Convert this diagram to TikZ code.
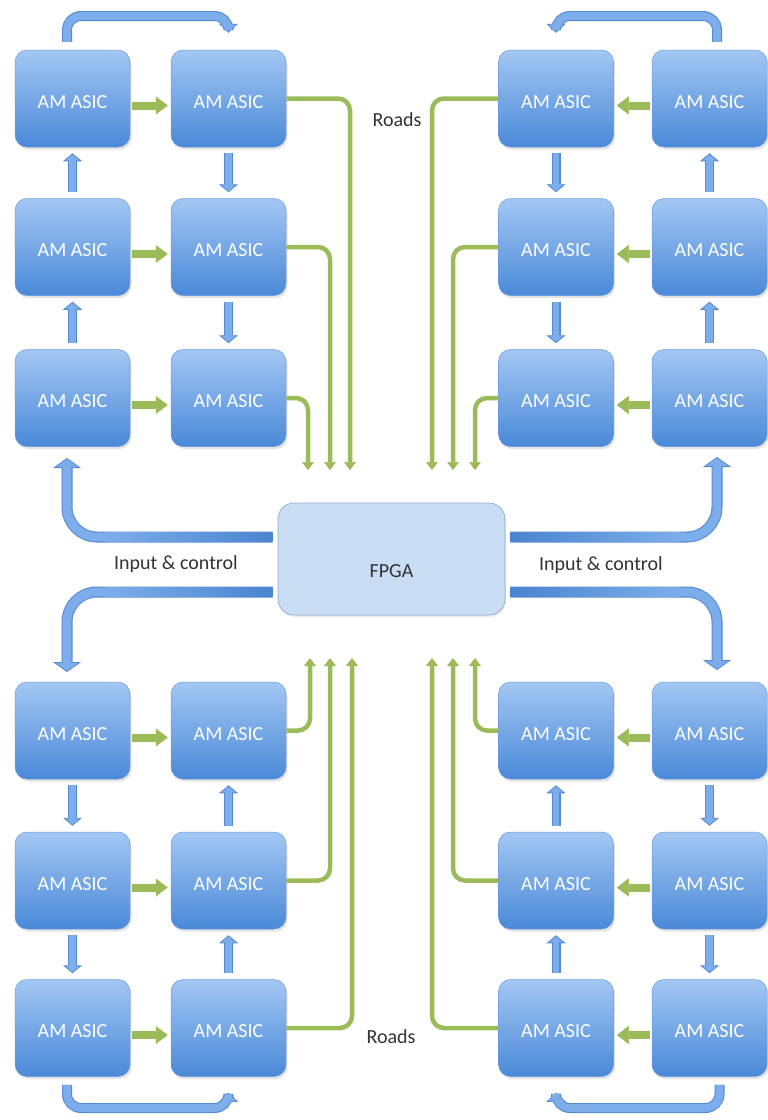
\documentclass[tikz,border=0pt]{standalone}
\usepackage{fontspec}
\setmainfont{Carlito}
\usetikzlibrary{arrows.meta,shadows}

\definecolor{asicTop}{HTML}{A3C7F3}
\definecolor{asicBot}{HTML}{4A89D8}
\definecolor{asicEdge}{HTML}{6B9CDB}
\definecolor{arrEdge}{HTML}{558BD4}
\definecolor{arrFill}{HTML}{7DAEEB}
\definecolor{arrDark}{HTML}{4A84CF}
\definecolor{roadGreen}{HTML}{9BBB59}
\definecolor{fpgaFill}{HTML}{C9DDF4}
\definecolor{fpgaEdge}{HTML}{8EAAD0}
\definecolor{labelInk}{HTML}{333333}

\begin{document}
\begin{tikzpicture}[x=1pt,y=-1pt,
  asic/.style={rounded corners=12pt, minimum width=115pt, minimum height=97pt,
    inner sep=0pt, top color=asicTop, bottom color=asicBot, draw=asicEdge,
    line width=0.5pt, text=white, font=\fontsize{20}{24}\selectfont,
    text height=19pt, text depth=0pt,
    drop shadow={opacity=0.22, shadow xshift=1.5pt, shadow yshift=-2.5pt}},
  fpga/.style={rounded corners=16pt, minimum width=227pt, minimum height=112pt,
    inner sep=0pt, fill=fpgaFill, draw=fpgaEdge, line width=0.7pt,
    text=labelInk, font=\fontsize{20}{24}\selectfont,
    text height=37pt, text depth=0pt,
    drop shadow={opacity=0.15, shadow xshift=1pt, shadow yshift=-2pt}},
  txt/.style={text=labelInk, font=\fontsize{20}{24}\selectfont, inner sep=0pt},
  bluesmall/.style={draw=arrEdge, line width=9pt,
    -{Triangle[width=19pt,length=8pt,fill=arrFill,line width=0.8pt]},
    postaction={draw=arrFill, line width=6.8pt, -, shorten >=5pt}},
  bluelong/.style={draw=arrEdge, line width=10pt, rounded corners=14pt,
    -{Triangle[width=19pt,length=9pt,fill=arrFill,line width=0.8pt]},
    postaction={draw=arrFill, line width=7.8pt, -, shorten >=6pt}},
  bluein/.style={draw=arrEdge, line width=11pt, rounded corners=30pt,
    -{Triangle[width=28pt,length=10pt,fill=arrFill,line width=0.8pt]},
    postaction={draw=arrFill, line width=8.8pt, -, shorten >=6.5pt}},
  greenH/.style={draw=roadGreen, line width=8pt,
    -{Triangle[width=18pt,length=12pt,fill=roadGreen,line width=0.5pt]}},
  roadline/.style={draw=roadGreen, line width=4.5pt, rounded corners=12pt,
    -{Triangle[width=12pt,length=8pt,fill=roadGreen,line width=0.5pt]}}
]
\useasboundingbox (0,0) rectangle (768,1120);

% ---------- ASIC tiles ----------
% top-left block
\node[asic] (a11) at (72.5,98.5)  {AM ASIC};
\node[asic] (a12) at (228.5,98.5) {AM ASIC};
\node[asic] (a21) at (72.5,247)   {AM ASIC};
\node[asic] (a22) at (228.5,247)  {AM ASIC};
\node[asic] (a31) at (72.5,398)   {AM ASIC};
\node[asic] (a32) at (228.5,398)  {AM ASIC};
% top-right block (column 1 = inner)
\node[asic] (b11) at (556,98.5)   {AM ASIC};
\node[asic] (b12) at (709.5,98.5) {AM ASIC};
\node[asic] (b21) at (556,247)    {AM ASIC};
\node[asic] (b22) at (709.5,247)  {AM ASIC};
\node[asic] (b31) at (556,398)    {AM ASIC};
\node[asic] (b32) at (709.5,398)  {AM ASIC};
% bottom-left block
\node[asic] (c11) at (72.5,730.5)  {AM ASIC};
\node[asic] (c12) at (228.5,730.5) {AM ASIC};
\node[asic] (c21) at (72.5,880.5)  {AM ASIC};
\node[asic] (c22) at (228.5,880.5) {AM ASIC};
\node[asic] (c31) at (72.5,1028)   {AM ASIC};
\node[asic] (c32) at (228.5,1028)  {AM ASIC};
% bottom-right block
\node[asic] (d11) at (556,730.5)   {AM ASIC};
\node[asic] (d12) at (709.5,730.5) {AM ASIC};
\node[asic] (d21) at (556,880.5)   {AM ASIC};
\node[asic] (d22) at (709.5,880.5) {AM ASIC};
\node[asic] (d31) at (556,1028)    {AM ASIC};
\node[asic] (d32) at (709.5,1028)  {AM ASIC};

% ---------- FPGA and labels ----------
\node[fpga] (fpga) at (391.5,559) {FPGA};
\node[txt] (roadsTop) at (397,120)  {Roads};
\node[txt] (roadsBot) at (391,1037) {Roads};
\node[txt] (icL) at (176,564) {Input \& control};
\node[txt] (icR) at (601,565) {Input \& control};

% ---------- helper coordinates ----------
\coordinate (topLane) at (0,16);
\coordinate (botLane) at (0,1108);
\coordinate (yU) at (0,537);
\coordinate (yD) at (0,592);
\coordinate (fL) at ([xshift=-5pt]fpga.west);
\coordinate (fR) at ([xshift=5pt]fpga.east);
\coordinate (inLU) at (67,458);
\coordinate (inLD) at (67,672);
\coordinate (inRU) at (717,457);
\coordinate (inRD) at (717,670);
% road ends
\coordinate (ra1) at (350,470);
\coordinate (ra2) at (330,470);
\coordinate (ra3) at (308,470);
\coordinate (rb1) at (432,470);
\coordinate (rb2) at (453,470);
\coordinate (rb3) at (475,470);
\coordinate (rc1) at (310,658);
\coordinate (rc2) at (330,658);
\coordinate (rc3) at (352,658);
\coordinate (rd1) at (475,658);
\coordinate (rd2) at (453,658);
\coordinate (rd3) at (432,658);

% ---------- roads to the FPGA ----------
\draw[roadline] (a12.east) -| (ra1);
\draw[roadline] (a22.east) -| (ra2);
\draw[roadline] (a32.east) -| (ra3);
\draw[roadline] (b11.west) -| (rb1);
\draw[roadline] (b21.west) -| (rb2);
\draw[roadline] (b31.west) -| (rb3);
\draw[roadline] (c12.east) -| (rc1);
\draw[roadline] (c22.east) -| (rc2);
\draw[roadline] (c32.east) -| (rc3);
\draw[roadline] (d11.west) -| (rd1);
\draw[roadline] (d21.west) -| (rd2);
\draw[roadline] (d31.west) -| (rd3);

% ---------- green links inside a row ----------
\foreach \r in {1,2,3}{
  \draw[greenH] ([xshift=2pt,yshift=-7pt]a\r1.east) -- ([xshift=-3pt,yshift=-7pt]a\r2.west);
  \draw[greenH] ([xshift=-2pt,yshift=-7pt]b\r2.west) -- ([xshift=3pt,yshift=-7pt]b\r1.east);
  \draw[greenH] ([xshift=2pt,yshift=-7pt]c\r1.east) -- ([xshift=-3pt,yshift=-7pt]c\r2.west);
  \draw[greenH] ([xshift=-2pt,yshift=-7pt]d\r2.west) -- ([xshift=3pt,yshift=-7pt]d\r1.east);
}

% ---------- blue links between rows ----------
% top-left: column 1 up, column 2 down
\draw[bluesmall] ([yshift=6pt]a21.north) -- ([yshift=-6pt]a11.south);
\draw[bluesmall] ([yshift=6pt]a31.north) -- ([yshift=-6pt]a21.south);
\draw[bluesmall] ([yshift=-6pt]a12.south) -- ([yshift=6pt]a22.north);
\draw[bluesmall] ([yshift=-6pt]a22.south) -- ([yshift=6pt]a32.north);
% top-right: inner column down, outer column up
\draw[bluesmall] ([yshift=-6pt]b11.south) -- ([yshift=6pt]b21.north);
\draw[bluesmall] ([yshift=-6pt]b21.south) -- ([yshift=6pt]b31.north);
\draw[bluesmall] ([yshift=6pt]b32.north) -- ([yshift=-6pt]b22.south);
\draw[bluesmall] ([yshift=6pt]b22.north) -- ([yshift=-6pt]b12.south);
% bottom-left: column 1 down, column 2 up
\draw[bluesmall] ([yshift=-6pt]c11.south) -- ([yshift=6pt]c21.north);
\draw[bluesmall] ([yshift=-6pt]c21.south) -- ([yshift=6pt]c31.north);
\draw[bluesmall] ([yshift=6pt]c32.north) -- ([yshift=-6pt]c22.south);
\draw[bluesmall] ([yshift=6pt]c22.north) -- ([yshift=-6pt]c12.south);
% bottom-right: inner column up, outer column down
\draw[bluesmall] ([yshift=6pt]d31.north) -- ([yshift=-6pt]d21.south);
\draw[bluesmall] ([yshift=6pt]d21.north) -- ([yshift=-6pt]d11.south);
\draw[bluesmall] ([yshift=-6pt]d12.south) -- ([yshift=6pt]d22.north);
\draw[bluesmall] ([yshift=-6pt]d22.south) -- ([yshift=6pt]d32.north);

% ---------- loops around the outer ends ----------
\draw[bluelong] ([xshift=-5.5pt,yshift=8pt]a11.north) |- (a12.north |- topLane) -- ([yshift=17pt]a12.north);
\draw[bluelong] ([xshift=7.5pt,yshift=8pt]b12.north) |- (b11.north |- topLane) -- ([yshift=17pt]b11.north);
\draw[bluelong] ([xshift=-5.5pt,yshift=-8pt]c31.south) |- (c32.south |- botLane) -- ([yshift=-16pt]c32.south);
\draw[bluelong] ([xshift=10pt,yshift=-8pt]d32.south) |- (d31.south |- botLane) -- ([yshift=-16pt]d31.south);

% ---------- input & control from the FPGA ----------
\draw[bluein] (fL |- yU) -| (inLU);
\draw[bluein] (fL |- yD) -| (inLD);
\draw[bluein] (fR |- yU) -| (inRU);
\draw[bluein] (fR |- yD) -| (inRD);
% darker tone of the feed near the FPGA
\fill[left color=arrFill, right color=arrDark] (105,532.6) rectangle (fL |- 0,541.4);
\fill[left color=arrFill, right color=arrDark] (105,587.6) rectangle (fL |- 0,596.4);
\fill[left color=arrDark, right color=arrFill] (fR |- 0,532.6) rectangle (680,541.4);
\fill[left color=arrDark, right color=arrFill] (fR |- 0,587.6) rectangle (680,596.4);
\end{tikzpicture}
\end{document}
